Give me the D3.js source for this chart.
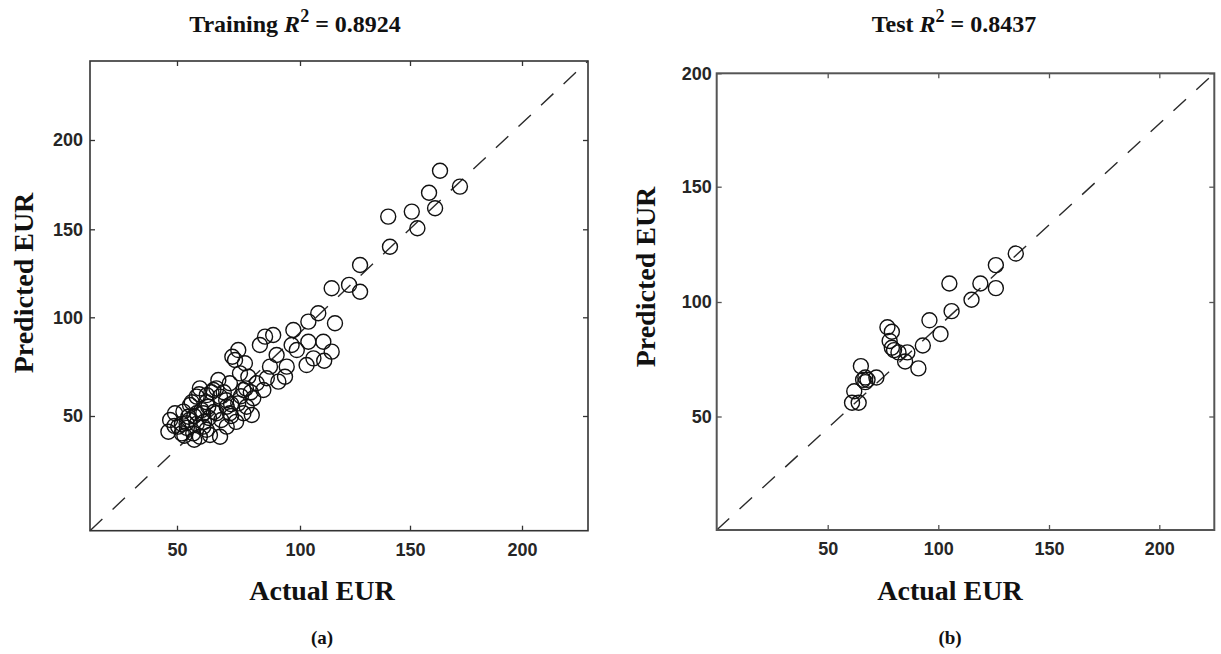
<!DOCTYPE html>
<html><head><meta charset="utf-8">
<script src="https://cdn.jsdelivr.net/npm/d3@7"></script>
<style>body{margin:0;background:#fff}svg{display:block}</style>
</head><body><svg id="c" width="1221" height="654"></svg>
<script>
const tickValues = [50, 100, 150, 200];
const trainTitle = {pre: "Training ", r2: "0.8924"};
const testTitle = {pre: "Test ", r2: "0.8437"};
const xLabel = "Actual EUR", yLabel = "Predicted EUR";
const panelLabels = ["(a)", "(b)"];

const trainActual = [163.4,172.3,158.5,161.2,150.8,140.1,153.3,140.9,127.3,127.3,114.4,122.3,108.3,103.8,115.9,85.8,89.1,83.7,97.3,96.6,98.7,103.8,110.6,114.4,106.1,103.0,94.6,90.5,87.8,93.9,91.2,86.5,82.4,85.1,81.0,77.0,79.0,75.6,73.6,74.9,77.6,71.5,66.8,64.8,62.1,59.3,58.0,55.3,52.6,49.2,47.2,46.5,50.5,53.9,56.6,60.7,63.4,67.5,70.2,66.1,70.2,67.5,74.9,78.3,80.4,77.0,71.5,60.7,58.0,54.6,51.9,59.3,62.7,72.5,111,52,55,57,54,49,58,61,63,65,60,56,62,59,64,66,69,70,72,76,78,80,68,72,74,62,57,53];
const trainPredicted = [182.8,173.9,170.5,161.8,159.9,157.1,150.6,140.1,129.7,114.5,116.5,118.4,102.3,97.8,97.0,90.2,91.0,86.0,93.6,86.0,83.4,87.6,87.6,82.6,79.2,75.8,75.0,80.9,75.0,69.9,67.4,69.1,66.6,63.2,59.0,63.2,69.9,71.6,78.4,83.4,76.7,66.6,68.2,63.2,60.6,64.0,59.8,55.6,52.2,51.4,48.0,42.0,44.6,46.3,41.2,44.6,40.4,39.5,44.6,51.4,54.7,59.8,56.4,54.7,50.5,51.4,51.4,51.4,51.4,49.6,41.2,39.5,54.7,80,78,46,48,50,44,45,46,47,49,52,53,57,57,61,62,64,62,58,56,60,64,62,48,50,47,43,38,40];

const testActual = [135,126,126,119,115,105,106,101,96,93,91,86,85,82,80,79,78,79,77,72,68,67,66,67,65,64,61,62];
const testPredicted = [121,116,106,108,101,108,96,86,92,81,71,78,74,78,79,80,83,87,89,67,66,67,66,65,72,56,56,61];

const svg = d3.select("#c");

function panel(cfg) {
  const x = d3.scaleLinear().domain(cfg.xDom).range(cfg.xRange);
  const y = d3.scaleLinear().domain(cfg.yDom).range(cfg.yRange);
  const g = svg.append("g");
  const x0 = cfg.xRange[0], x1 = cfg.xRange[cfg.xRange.length - 1];
  const y0 = cfg.yRange[0], y1 = cfg.yRange[cfg.yRange.length - 1];
  const axisColor = cfg.axisColor;

  g.append("line")
    .attr("x1", x(cfg.xDom[0])).attr("y1", y(cfg.yDom[0]))
    .attr("x2", x(cfg.xDom[cfg.xDom.length - 1])).attr("y2", y(cfg.yDom[cfg.yDom.length - 1]))
    .attr("stroke", "#2a2a2a").attr("stroke-width", 1.4).attr("stroke-dasharray", "17,14");

  g.append("g").selectAll("circle").data(cfg.xs.map((v, i) => [v, cfg.ys[i]]))
    .join("circle")
    .attr("cx", d => x(d[0])).attr("cy", d => y(d[1])).attr("r", 7.5)
    .attr("fill", "none").attr("stroke", "#111").attr("stroke-width", 1.4);

  const styleAxis = sel => {
    sel.select(".domain").remove();
    sel.selectAll(".tick line").attr("stroke", axisColor).attr("stroke-width", 1.3);
    sel.selectAll("text").attr("font-family", "Liberation Sans, Arial, sans-serif")
      .attr("font-weight", "bold").attr("font-size", 18).attr("fill", "#262626");
  };
  g.append("g").attr("transform", `translate(0,${y0})`)
    .call(d3.axisBottom(x).tickValues(tickValues).tickSize(-5).tickPadding(12.5).tickFormat(d3.format("d")))
    .call(styleAxis);
  g.append("g").attr("transform", `translate(0,${y1})`)
    .call(d3.axisTop(x).tickValues(tickValues).tickSize(-5).tickFormat(""))
    .call(styleAxis);
  g.append("g").attr("transform", `translate(${x0},0)`)
    .call(d3.axisLeft(y).tickValues(tickValues).tickSize(-5).tickPadding(cfg.yPad).tickFormat(d3.format("d")))
    .call(styleAxis);
  g.append("g").attr("transform", `translate(${x1},0)`)
    .call(d3.axisRight(y).tickValues(tickValues).tickSize(-5).tickFormat(""))
    .call(styleAxis);

  g.append("rect").attr("x", x0).attr("y", y1).attr("width", x1 - x0).attr("height", y0 - y1)
    .attr("fill", "none").attr("stroke", axisColor).attr("stroke-width", cfg.boxWidth);

  const t = g.append("text").attr("x", cfg.titleX).attr("y", 32).attr("text-anchor", "middle")
    .attr("font-family", "Liberation Serif, Times New Roman, serif").attr("font-weight", "bold")
    .attr("font-size", 24).attr("fill", "#111");
  t.append("tspan").text(cfg.title.pre);
  t.append("tspan").attr("font-style", "italic").text("R");
  t.append("tspan").attr("dy", -10).attr("font-size", 18).text("2");
  t.append("tspan").attr("dy", 10).text(" = " + cfg.title.r2);

  g.append("text").attr("x", cfg.xLabelX).attr("y", 600).attr("text-anchor", "middle")
    .attr("font-family", "Liberation Serif, Times New Roman, serif").attr("font-weight", "bold")
    .attr("font-size", 28).attr("fill", "#111").text(xLabel);
  g.append("text").attr("transform", `translate(${cfg.yLabelX},${cfg.yLabelY}) rotate(-90)`)
    .attr("text-anchor", "middle")
    .attr("font-family", "Liberation Serif, Times New Roman, serif").attr("font-weight", "bold")
    .attr("font-size", 28).attr("fill", "#111").text(yLabel);
  g.append("text").attr("x", cfg.xLabelX).attr("y", 644).attr("text-anchor", "middle")
    .attr("font-family", "Liberation Serif, Times New Roman, serif").attr("font-weight", "bold")
    .attr("font-size", 19).attr("fill", "#111").text(cfg.panel);
}

panel({
  xDom: [14.6, 50, 100, 150, 200, 229.5], xRange: [90, 177, 300, 410, 522, 588],
  yDom: [-8.1, 50, 100, 150, 200, 244.2], yRange: [530.7, 416, 317.3, 229.3, 140, 61],
  xs: trainActual, ys: trainPredicted, axisColor: "#333", boxWidth: 1.6, yPad: 7,
  title: trainTitle, titleX: 295, xLabelX: 322, yLabelX: 33, yLabelY: 283, panel: panelLabels[0]
});
panel({
  xDom: [0, 50, 100, 150, 200, 225], xRange: [716.7, 827.7, 938.3, 1049, 1159.3, 1214.3],
  yDom: [0, 50, 100, 150, 200], yRange: [530, 416.5, 302, 186.7, 73.3],
  xs: testActual, ys: testPredicted, axisColor: "#555", boxWidth: 2, yPad: 5,
  title: testTitle, titleX: 954, xLabelX: 950, yLabelX: 655, yLabelY: 277, panel: panelLabels[1]
});
</script></body></html>
